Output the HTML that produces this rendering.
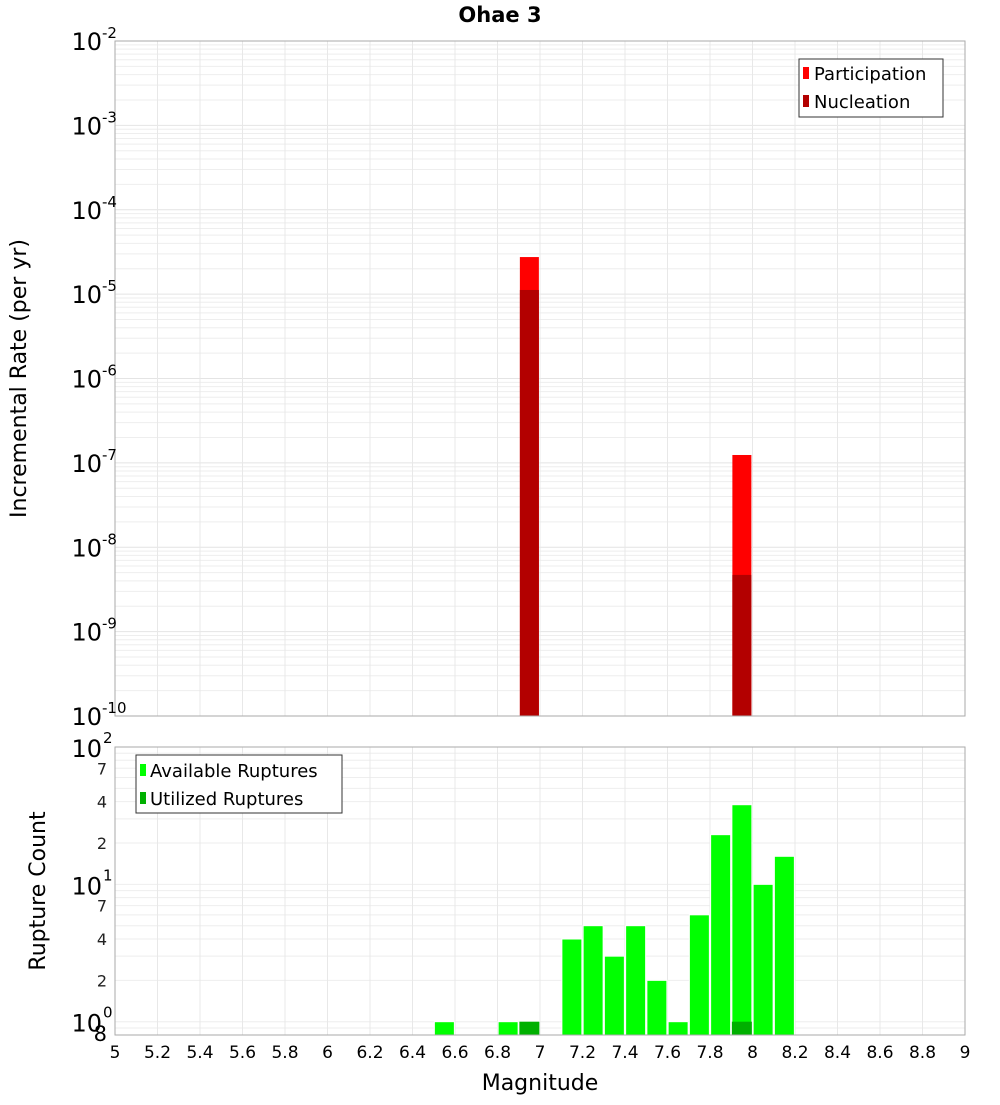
<!DOCTYPE html>
<html><head><meta charset="utf-8">
<style>
body{margin:0;background:#fff;}
svg text{font-family:"DejaVu Sans","Liberation Sans",sans-serif;}
</style></head>
<body>
<svg id="chart" width="1000" height="1100" xmlns="http://www.w3.org/2000/svg">
<text x="500" y="22" text-anchor="middle" font-size="21" font-weight="bold">Ohae 3</text>
<g id="topPanel"></g>
<g id="botPanel"></g>
</svg>
<script>
const binCenters=[6.95,7.95];
const participation=[2.75e-5,1.24e-7];
const nucleation=[1.12e-5,4.7e-9];
const countBins=[6.55,6.85,6.95,7.15,7.25,7.35,7.45,7.55,7.65,7.75,7.85,7.95,8.05,8.15];
const available=[1,1,1,4,5,3,5,2,1,6,23,38,10,16];
const utilizedBins=[6.95,7.95];
const utilized=[1,1];
const xTicks=[5,5.2,5.4,5.6,5.8,6,6.2,6.4,6.6,6.8,7,7.2,7.4,7.6,7.8,8,8.2,8.4,8.6,8.8,9];
const topExps=[-2,-3,-4,-5,-6,-7,-8,-9,-10];
const botMinor=[2,4,7];

const NS="http://www.w3.org/2000/svg";
const L=115,R=965;
const T1=41,B1=716,T2=747,B2=1035;
const xs=m=>L+(m-5)/4*(R-L);
const y1=v=>T1+(-2-Math.log10(v))/8*(B1-T1);
const y2=v=>T2+(2-Math.log10(v))/(2-Math.log10(0.8))*(B2-T2);
function mk(p,tag,attrs,txt){const e=document.createElementNS(NS,tag);for(const k in attrs)e.setAttribute(k,attrs[k]);if(txt!=null)e.textContent=txt;p.appendChild(e);return e;}
const gTop=document.getElementById('topPanel'),gBot=document.getElementById('botPanel');
let e;
// top panel
e=mk(gTop,'rect',{x:L,y:T1,width:R-L,height:B1-T1,fill:'#fff'});

for(let d=-10;d<-2;d++){for(let k=1;k<10;k++){const yy=y1(k*Math.pow(10,d));
 e=mk(gTop,'line',{x1:L,x2:R,y1:yy,y2:yy,stroke:k==1?'#e4e4e4':'#eeeeee','stroke-width':1});
 }}
xTicks.forEach(t=>{e=mk(gTop,'line',{x1:xs(t),x2:xs(t),y1:T1,y2:B1,stroke:'#e8e8e8'});
 });
const bw=19;
binCenters.forEach((c,i)=>{
 e=mk(gTop,'rect',{x:xs(c)-bw/2,y:y1(participation[i]),width:bw,height:B1-y1(participation[i]),fill:'#ff0000'});
 
 e=mk(gTop,'rect',{x:xs(c)-bw/2,y:y1(nucleation[i]),width:bw,height:B1-y1(nucleation[i]),fill:'#b30000'});
 });
e=mk(gTop,'rect',{x:L,y:T1,width:R-L,height:B1-T1,fill:'none',stroke:'#aaa'});

topExps.forEach(p=>{const yy=y1(Math.pow(10,p));
 e=mk(gTop,'text',{x:102,y:yy+9,'text-anchor':'end','font-size':24},'10');
 
 e=mk(gTop,'text',{x:102,y:yy-3,'font-size':15},String(p));
 });
e=mk(gTop,'text',{x:26,y:(T1+B1)/2,'text-anchor':'middle','font-size':22,transform:`rotate(-90 26 ${(T1+B1)/2})`},'Incremental Rate (per yr)');

e=mk(gTop,'rect',{x:799,y:59,width:144,height:58,fill:'#fff',stroke:'#333'});

e=mk(gTop,'rect',{x:803,y:67,width:6,height:12,fill:'#ff0000'});

e=mk(gTop,'text',{x:814,y:80,'font-size':18},'Participation');

e=mk(gTop,'rect',{x:803,y:95,width:6,height:12,fill:'#b30000'});

e=mk(gTop,'text',{x:814,y:108,'font-size':18},'Nucleation');


// bottom panel
for(const v of [0.8,0.9,1,2,3,4,5,6,7,8,9,10,20,30,40,50,60,70,80,90]){const yy=y2(v);
 e=mk(gBot,'line',{x1:L,x2:R,y1:yy,y2:yy,stroke:'#eeeeee'});
 }
xTicks.forEach(t=>{e=mk(gBot,'line',{x1:xs(t),x2:xs(t),y1:T2,y2:B2,stroke:'#e8e8e8'});
 });
const bw2=20;
countBins.forEach((c,i)=>{
 e=mk(gBot,'rect',{x:xs(c)-bw2/2,y:y2(available[i]),width:bw2,height:B2-y2(available[i]),fill:'#00ff00',stroke:'#fff','stroke-width':1});
 });
utilizedBins.forEach((c,i)=>{
 e=mk(gBot,'rect',{x:xs(c)-bw2/2,y:y2(utilized[i]),width:bw2,height:B2-y2(utilized[i]),fill:'#00b000'});
 });
e=mk(gBot,'rect',{x:L,y:T2,width:R-L,height:B2-T2,fill:'none',stroke:'#aaa'});

[2,1,0].forEach(p=>{const yy=y2(Math.pow(10,p));
 e=mk(gBot,'text',{x:102,y:yy+10,'text-anchor':'end','font-size':24},'10');
 
 e=mk(gBot,'text',{x:103,y:yy-4,'font-size':15},String(p));
 });
[1,10].forEach(dec=>botMinor.forEach(k=>{const yy=y2(k*dec);
 e=mk(gBot,'text',{x:107,y:yy+6,'text-anchor':'end','font-size':16,fill:'#222'},String(k));
 }));
e=mk(gBot,'text',{x:107,y:y2(0.8)+6,'text-anchor':'end','font-size':21},'8');

e=mk(gBot,'text',{x:45,y:(T2+B2)/2,'text-anchor':'middle','font-size':22,transform:`rotate(-90 45 ${(T2+B2)/2})`},'Rupture Count');

xTicks.forEach(t=>{e=mk(gBot,'text',{x:xs(t),y:1058,'text-anchor':'middle','font-size':17},String(t));
 });
e=mk(gBot,'text',{x:540,y:1090,'text-anchor':'middle','font-size':22},'Magnitude');

e=mk(gBot,'rect',{x:136,y:755,width:206,height:58,fill:'#fff',stroke:'#333'});

e=mk(gBot,'rect',{x:140,y:764,width:6,height:12,fill:'#00ff00'});

e=mk(gBot,'text',{x:150,y:777,'font-size':18},'Available Ruptures');

e=mk(gBot,'rect',{x:140,y:792,width:6,height:12,fill:'#00b000'});

e=mk(gBot,'text',{x:150,y:805,'font-size':18},'Utilized Ruptures');

</script>
</body></html>
